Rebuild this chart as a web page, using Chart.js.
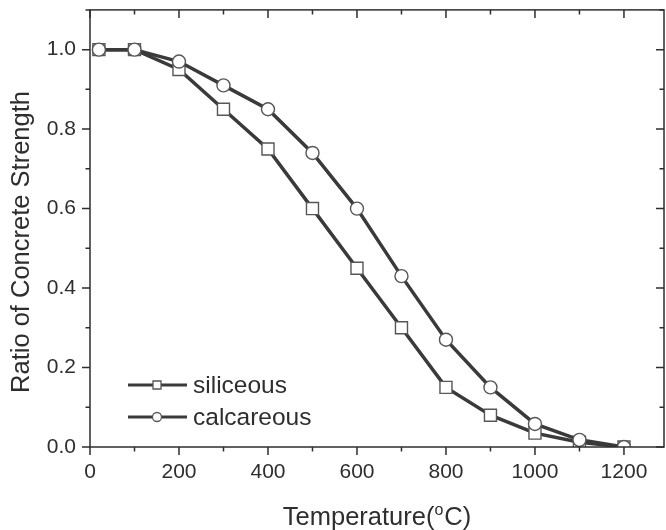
<!DOCTYPE html>
<html>
<head>
<meta charset="utf-8">
<script src="https://cdn.jsdelivr.net/npm/chart.js@4/dist/chart.umd.min.js"></script>
<style>
html, body { margin: 0; padding: 0; background: #fff; }
#wrap { width: 666px; height: 530px; }
</style>
</head>
<body>
<div id="wrap"><canvas id="chart" width="666" height="530"></canvas></div>
<script>
// values
var temperatures = [20, 100, 200, 300, 400, 500, 600, 700, 800, 900, 1000, 1100, 1200];
var siliceous = [1.0, 1.0, 0.95, 0.85, 0.75, 0.60, 0.45, 0.30, 0.15, 0.08, 0.035, 0.012, 0.0];
var calcareous = [1.0, 1.0, 0.97, 0.91, 0.85, 0.74, 0.60, 0.43, 0.27, 0.15, 0.058, 0.018, 0.0];
var seriesNames = ['siliceous', 'calcareous'];
var xTickLabels = ['0', '200', '400', '600', '800', '1000', '1200'];
var yTickLabels = ['0.0', '0.2', '0.4', '0.6', '0.8', '1.0'];

var FONT = '"Liberation Sans", Arial, sans-serif';
var INK = '#2e2e2e';
var LINE = '#3a3a3a';
var MARK = '#575757';

function toPoints(xs, ys) {
	return xs.map(function(x, i) { return {x: x, y: ys[i]}; });
}

function drawMarker(ctx, style, x, y, r) {
	ctx.beginPath();
	if (style === 'rect') {
		ctx.rect(x - r, y - r, 2 * r, 2 * r);
	} else {
		ctx.arc(x, y, r, 0, Math.PI * 2);
	}
	ctx.fillStyle = '#fff';
	ctx.fill();
	ctx.lineWidth = 1.3;
	ctx.strokeStyle = MARK;
	ctx.stroke();
}

// chart.js keeps a few px on the right; stretch the plot to the frame edge
var fixArea = {
	id: 'fixArea',
	afterLayout: function(chart) {
		var a = chart.chartArea, x = chart.scales.x;
		a.right = chart.width - 2;
		a.width = a.right - a.left;
		x.right = a.right;
		x.width = a.width;
		x.configure();
	}
};

// frame with mirrored major/minor ticks, like the Origin plot
var framePlugin = {
	id: 'frame',
	afterDatasetsDraw: function(chart) {
		var ctx = chart.ctx;
		var a = chart.chartArea;
		var xs = chart.scales.x, ys = chart.scales.y;
		var major = 8, minor = 4.5;
		ctx.save();
		ctx.strokeStyle = INK;
		ctx.lineWidth = 1.5;
		ctx.strokeRect(a.left, a.top, a.right - a.left, a.bottom - a.top);
		ctx.beginPath();
		var xStep = xs.options.ticks.stepSize;
		for (var v = xs.min; v <= xs.max + 1e-9; v += xStep / 2) {
			var px = xs.getPixelForValue(v);
			var len = (Math.round(v / xStep * 2) % 2 === 0) ? major : minor;
			ctx.moveTo(px, a.bottom); ctx.lineTo(px, a.bottom + len);
			ctx.moveTo(px, a.top); ctx.lineTo(px, a.top + len);
		}
		var yStep = ys.options.ticks.stepSize;
		for (var w = ys.min; w <= ys.max + 1e-9; w += yStep / 2) {
			var py = ys.getPixelForValue(w);
			var l2 = (Math.round(w / yStep * 2) % 2 === 0) ? major : minor;
			ctx.moveTo(a.left, py); ctx.lineTo(a.left - l2, py);
			ctx.moveTo(a.right, py); ctx.lineTo(a.right - l2, py);
		}
		ctx.stroke();
		ctx.restore();
	},
	afterDraw: function(chart) {
		var ctx = chart.ctx;
		var a = chart.chartArea;
		ctx.save();
		ctx.fillStyle = INK;

		// x title with superscript o
		var big = '25.5px ' + FONT, small = '16px ' + FONT;
		ctx.font = big;
		var p1 = 'Temperature(', p3 = 'C)';
		var w1 = ctx.measureText(p1).width, w3 = ctx.measureText(p3).width;
		ctx.font = small;
		var w2 = ctx.measureText('o').width + 1;
		var total = w1 + w2 + w3;
		var x0 = (a.left + a.right) / 2 - total / 2, base = 525;
		ctx.textBaseline = 'alphabetic';
		ctx.textAlign = 'left';
		ctx.font = big;
		ctx.fillText(p1, x0, base);
		ctx.font = small;
		ctx.fillText('o', x0 + w1, base - 10);
		ctx.font = big;
		ctx.fillText(p3, x0 + w1 + w2, base);

		// y title
		ctx.translate(29, 242);
		ctx.rotate(-Math.PI / 2);
		ctx.textAlign = 'center';
		ctx.fillText('Ratio of Concrete Strength', 0, 0);
		ctx.restore();

		// legend: line with marker, then name
		ctx.save();
		var rows = [385, 417];
		chart.data.datasets.forEach(function(ds, i) {
			var y = rows[i];
			ctx.strokeStyle = LINE;
			ctx.lineWidth = 3;
			ctx.beginPath();
			ctx.moveTo(128, y); ctx.lineTo(187, y);
			ctx.stroke();
			drawMarker(ctx, ds.pointStyle, 157, y, ds.pointStyle === 'rect' ? 4 : 4.5);
			ctx.fillStyle = INK;
			ctx.font = '24.5px ' + FONT;
			ctx.textAlign = 'left';
			ctx.textBaseline = 'alphabetic';
			ctx.fillText(ds.label, 193, y + 8);
		});
		ctx.restore();
	}
};

new Chart(document.getElementById('chart'), {
	type: 'line',
	data: {
		datasets: [{
			label: seriesNames[0],
			data: toPoints(temperatures, siliceous),
			pointStyle: 'rect',
			pointRadius: 8.5,
			order: 2
		}, {
			label: seriesNames[1],
			data: toPoints(temperatures, calcareous),
			pointStyle: 'circle',
			pointRadius: 6.5,
			order: 1
		}]
	},
	options: {
		responsive: false,
		animation: false,
		devicePixelRatio: 1,
		layout: {padding: {top: 7, right: 2, left: 0, bottom: 0}},
		elements: {
			line: {borderColor: LINE, borderWidth: 3.5, tension: 0},
			point: {backgroundColor: '#fff', borderColor: MARK, borderWidth: 1.4, hoverRadius: 6}
		},
		datasets: {line: {clip: 0}},
		plugins: {legend: {display: false}, tooltip: {enabled: false}},
		scales: {
			x: {
				type: 'linear',
				min: 0,
				max: 1290,
				grid: {display: false, drawTicks: false},
				border: {display: false},
				ticks: {
					stepSize: 200,
					includeBounds: false,
					autoSkip: false,
					maxRotation: 0,
					padding: 13,
					color: INK,
					font: {family: FONT, size: 21},
					callback: function(v, i) { return xTickLabels[i]; }
				},
				afterFit: function(s) {
					s.height = 83;
					s.paddingLeft = 0;
					s.paddingRight = 0;
				}
			},
			y: {
				min: 0,
				max: 1.1,
				grid: {display: false, drawTicks: false},
				border: {display: false},
				ticks: {
					stepSize: 0.2,
					includeBounds: false,
					padding: 14,
					color: INK,
					font: {family: FONT, size: 21},
					callback: function(v, i) { return yTickLabels[i]; }
				},
				afterFit: function(s) {
					s.width = 90;
					s.paddingTop = 0;
					s.paddingBottom = 0;
				}
			}
		}
	},
	plugins: [fixArea, framePlugin]
});
</script>
</body>
</html>
